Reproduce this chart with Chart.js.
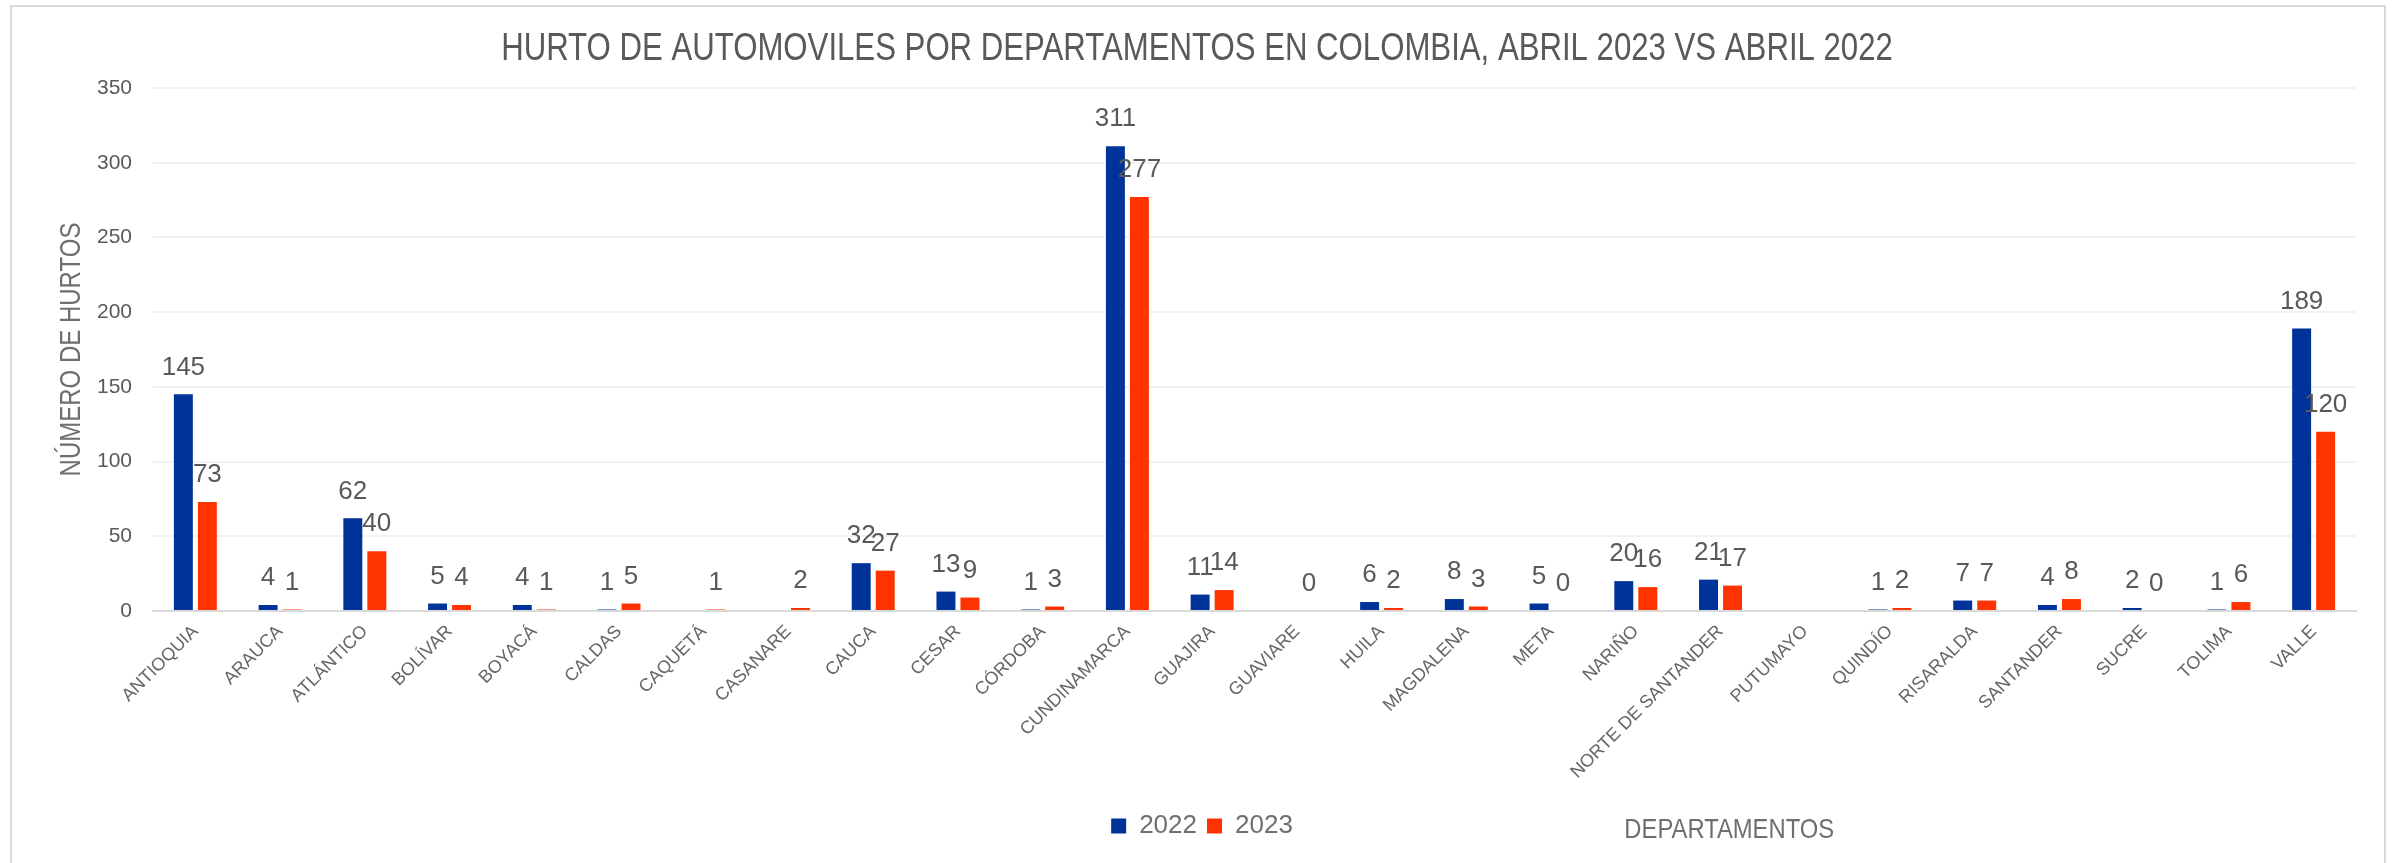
<!DOCTYPE html>
<html lang="es">
<head>
<meta charset="utf-8">
<title>Hurto de automóviles por departamentos</title>
<script src="https://cdn.jsdelivr.net/npm/chart.js@4.4.1/dist/chart.umd.min.js"></script>
<style>
  html, body { margin: 0; padding: 0; background: #fff; overflow: hidden; }
  canvas { display: block; }
  #marco {
    position: absolute; left: 10px; top: 5px;
    width: 2372px; height: 900px;
    border: 2px solid #d9d9d9; pointer-events: none;
  }
</style>
</head>
<body>
<canvas id="grafico" width="2392" height="863"></canvas>
<div id="marco"></div>
<script>
// Datos
const departamentos = [
  'ANTIOQUIA', 'ARAUCA', 'ATLÁNTICO', 'BOLÍVAR', 'BOYACÁ', 'CALDAS', 'CAQUETÁ',
  'CASANARE', 'CAUCA', 'CESAR', 'CÓRDOBA', 'CUNDINAMARCA', 'GUAJIRA', 'GUAVIARE',
  'HUILA', 'MAGDALENA', 'META', 'NARIÑO', 'NORTE DE SANTANDER', 'PUTUMAYO',
  'QUINDÍO', 'RISARALDA', 'SANTANDER', 'SUCRE', 'TOLIMA', 'VALLE',
];
const hurtos2022 = [145, 4, 62, 5, 4, 1, null, null, 32, 13, 1, 311, 11, null, 6, 8, 5, 20, 21, null, 1, 7, 4, 2, 1, 189];
const hurtos2023 = [73, 1, 40, 4, 1, 5, 1, 2, 27, 9, 3, 277, 14, 0, 2, 3, 0, 16, 17, null, 2, 7, 8, 0, 6, 120];
const ticksY = [0, 50, 100, 150, 200, 250, 300, 350];

const titulo = 'HURTO DE AUTOMOVILES POR DEPARTAMENTOS EN COLOMBIA, ABRIL 2023 VS ABRIL 2022';
const tituloY = 'NÚMERO DE HURTOS';
const tituloX = 'DEPARTAMENTOS';

const AZUL = '#003399';
const ROJO = '#ff3300';
const GRIS = '#595959';
const FUENTE = '"Liberation Sans", Arial, sans-serif';

// texto "angosto": Arial comprimido a lo ancho, como la fuente condensada del original
function textoAngosto(ctx, txt, x, y, tam, ancho, color, giro) {
  ctx.save();
  ctx.font = tam + 'px ' + FUENTE;
  ctx.fillStyle = color;
  ctx.textAlign = 'center';
  ctx.textBaseline = 'alphabetic';
  ctx.translate(x, y);
  if (giro) ctx.rotate(giro);
  ctx.scale(ancho, 1);
  ctx.fillText(txt, 0, 0);
  ctx.restore();
}

const titulos = {
  id: 'titulos',
  afterDraw(chart) {
    const ctx = chart.ctx;
    const a = chart.chartArea;
    textoAngosto(ctx, titulo, (chart.legend.left + chart.legend.right) / 2 - 5, 60, 38, 0.82, GRIS);
    textoAngosto(ctx, tituloY, 80, (a.top + a.bottom) / 2, 30, 0.8, '#6f6f6f', -Math.PI / 2);
    textoAngosto(ctx, tituloX, a.left + a.width * 0.7155, 838, 28, 0.85, '#6f6f6f');
  },
};

const etiquetasValor = {
  id: 'etiquetasValor',
  afterDatasetsDraw(chart) {
    const ctx = chart.ctx;
    ctx.save();
    ctx.font = '26px ' + FUENTE;
    ctx.fillStyle = GRIS;
    ctx.textAlign = 'center';
    ctx.textBaseline = 'middle';
    chart.data.datasets.forEach((ds, i) => {
      chart.getDatasetMeta(i).data.forEach((barra, j) => {
        const v = ds.data[j];
        if (v === null || v === undefined) return;
        ctx.fillText(String(v), barra.x, barra.y - 27);
      });
    });
    ctx.restore();
  },
};

new Chart(document.getElementById('grafico'), {
  type: 'bar',
  data: {
    labels: departamentos,
    datasets: [
      { label: '2022', data: hurtos2022, backgroundColor: AZUL },
      { label: '2023', data: hurtos2023, backgroundColor: ROJO },
    ],
  },
  options: {
    responsive: false,
    animation: false,
    devicePixelRatio: 1,
    categoryPercentage: 0.5665,
    barPercentage: 0.79,
    layout: { padding: { left: 48, right: 36, top: 88, bottom: 14 } },
    plugins: {
      title: { display: false },
      legend: {
        position: 'bottom',
        labels: {
          color: '#6f6f6f',
          boxWidth: 15,
          boxHeight: 15,
          padding: 10,
          font: { family: FUENTE, size: 26 },
        },
      },
      tooltip: { enabled: false },
    },
    scales: {
      x: {
        grid: { display: false, drawTicks: false },
        border: { color: '#d9d9d9', width: 2 },
        ticks: {
          color: '#666',
          autoSkip: false,
          maxRotation: 45,
          minRotation: 45,
          padding: 10,
          font: { family: FUENTE, size: 18 },
        },
        afterFit: (s) => { s.height = 192; },
      },
      y: {
        min: 0,
        max: 350,
        afterBuildTicks: (s) => { s.ticks = ticksY.map((v) => ({ value: v })); },
        grid: {
          drawTicks: false,
          lineWidth: 2,
          color: (c) => (c.tick && c.tick.value === 0 ? '#d9d9d9' : '#f2f2f2'),
        },
        border: { display: false },
        ticks: {
          color: GRIS,
          padding: 21,
          font: { family: FUENTE, size: 21 },
        },
        afterFit: (s) => { s.width = 105; },
      },
    },
  },
  plugins: [etiquetasValor, titulos],
});
</script>
</body>
</html>
